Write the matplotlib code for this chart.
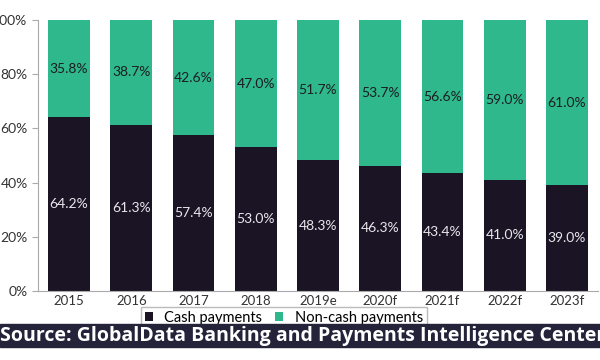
import matplotlib.pyplot as plt
from matplotlib.patches import Rectangle

years = ["2015", "2016", "2017", "2018", "2019e", "2020f", "2021f", "2022f", "2023f"]
cash = [64.2, 61.3, 57.4, 53.0, 48.3, 46.3, 43.4, 41.0, 39.0]
non_cash = [35.8, 38.7, 42.6, 47.0, 51.7, 53.7, 56.6, 59.0, 61.0]

cash_color = "#1b1424"
noncash_color = "#2eb88c"

plt.rcParams['font.family'] = ['Lato', 'DejaVu Sans']

fig = plt.figure(figsize=(6, 3.6), dpi=100)
ax = fig.add_axes([38 / 600, 1 - 291 / 360, 560 / 600, 271 / 360])

x = range(len(years))
ax.bar(x, cash, width=0.67, color=cash_color, label="Cash payments")
ax.bar(x, non_cash, width=0.67, bottom=cash, color=noncash_color, label="Non-cash payments")

# value labels in the middle of each segment
for i in x:
    ax.text(i, cash[i] / 2, f"{cash[i]:.1f}%", ha="center", va="center",
            color="#e8e6ec", fontsize=10)
    ax.text(i, cash[i] + non_cash[i] / 2, f"{non_cash[i]:.1f}%", ha="center",
            va="center", color="#1b1d22", fontsize=10)

ax.set_xlim(-0.5, len(years) - 0.5)
ax.set_ylim(0, 100)
ax.set_yticks(range(0, 101, 20))
ax.set_yticklabels([f"{v}%" for v in range(0, 101, 20)])
ax.set_xticks(list(x))
ax.set_xticklabels(years)
ax.tick_params(axis="y", labelsize=10, colors="#333333", length=4, color="#aaaaaa")
ax.tick_params(axis="x", labelsize=9.5, colors="#333333", length=0, pad=3)
for s in ["top", "right"]:
    ax.spines[s].set_visible(False)
ax.spines["left"].set_color("#aaaaaa")
ax.spines["bottom"].set_color("#aaaaaa")

# legend box sits partly under the source banner
leg = fig.legend(loc="upper center", bbox_to_anchor=(284 / 600, 1 - 307 / 360), ncol=2,
                 fontsize=10.5, frameon=True, fancybox=False, edgecolor="#aaaaaa",
                 handlelength=0.55, handleheight=0.55, handletextpad=0.8,
                 columnspacing=0.9, borderpad=0.25, borderaxespad=0)
leg.get_frame().set_linewidth(1.0)

# source banner
fig.patches.append(Rectangle((0, 1 - 347 / 360), 1, 23 / 360, transform=fig.transFigure,
                             color="#25233a", zorder=10))
fig.text(0.0, 1 - 335.5 / 360, "Source: GlobalData Banking and Payments Intelligence Center",
         color="white", fontsize=14, fontweight="bold", family=['Open Sans', 'DejaVu Sans'],
         ha="left", va="center", zorder=11)

fig.savefig("out.png", dpi=100)
